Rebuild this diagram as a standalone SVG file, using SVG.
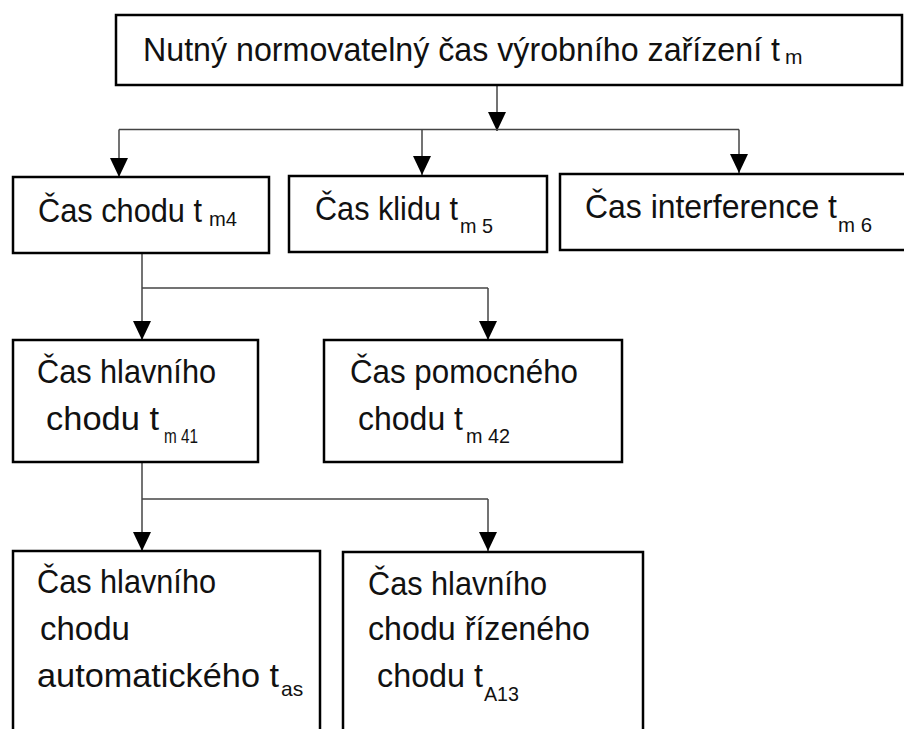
<svg xmlns="http://www.w3.org/2000/svg" width="904" height="729" viewBox="0 0 904 729">
<style>
.box{fill:#fff;stroke:#000;stroke-width:2.5}
.t{font-family:"Liberation Sans",Arial,sans-serif;font-size:33px;fill:#111}
.s{font-size:21px}
.c{fill:none;stroke:#444;stroke-width:1.5}
</style>
<defs>
<marker id="ah" markerUnits="userSpaceOnUse" markerWidth="19" markerHeight="18" refX="19" refY="9" orient="auto">
<path d="M0,0 L19,9 L0,18 z" fill="#000"/>
</marker>
</defs>
<rect width="904" height="729" fill="#fff"/>
<g id="connectors">
<line class="c" x1="497" y1="85" x2="497" y2="131" marker-end="url(#ah)"/>
<line class="c" x1="119" y1="129.5" x2="739" y2="129.5"/>
<line class="c" x1="119" y1="129.5" x2="119" y2="177" marker-end="url(#ah)"/>
<line class="c" x1="422" y1="129.5" x2="422" y2="175" marker-end="url(#ah)"/>
<line class="c" x1="739" y1="129.5" x2="739" y2="173" marker-end="url(#ah)"/>
<line class="c" x1="142" y1="253" x2="142" y2="340" marker-end="url(#ah)"/>
<line class="c" x1="142" y1="288" x2="488" y2="288"/>
<line class="c" x1="488" y1="288" x2="488" y2="340" marker-end="url(#ah)"/>
<line class="c" x1="142" y1="462" x2="142" y2="551" marker-end="url(#ah)"/>
<line class="c" x1="142" y1="499" x2="488" y2="499"/>
<line class="c" x1="488" y1="499" x2="488" y2="551" marker-end="url(#ah)"/>
</g>
<g id="n_top">
<rect class="box" x="116" y="15" width="786" height="70"/>
<text class="t" x="143" y="61"><tspan textLength="637" lengthAdjust="spacingAndGlyphs">Nutný normovatelný čas výrobního zařízení t</tspan><tspan class="s" x="785" y="64">m</tspan></text>
</g>
<g id="n_chod">
<rect class="box" x="13" y="177" width="256" height="76"/>
<text class="t" x="38" y="222"><tspan textLength="164" lengthAdjust="spacingAndGlyphs">Čas chodu t</tspan><tspan class="s" x="209" y="226" textLength="28" lengthAdjust="spacingAndGlyphs">m4</tspan></text>
</g>
<g id="n_klid">
<rect class="box" x="289" y="176" width="258" height="76"/>
<text class="t" x="315" y="220"><tspan textLength="143" lengthAdjust="spacingAndGlyphs">Čas klidu t</tspan><tspan class="s" x="460" y="233" textLength="33" lengthAdjust="spacingAndGlyphs">m 5</tspan></text>
</g>
<g id="n_interf">
<rect class="box" x="560" y="174" width="360" height="76"/>
<text class="t" x="585" y="218"><tspan textLength="252" lengthAdjust="spacingAndGlyphs">Čas interference t</tspan><tspan class="s" x="838" y="232" textLength="34" lengthAdjust="spacingAndGlyphs">m 6</tspan></text>
</g>
<g id="n_hlavni">
<rect class="box" x="13" y="340" width="245" height="122"/>
<text class="t" x="37" y="383" textLength="179" lengthAdjust="spacingAndGlyphs">Čas hlavního</text>
<text class="t" x="46" y="430"><tspan textLength="113" lengthAdjust="spacingAndGlyphs">chodu t</tspan><tspan class="s" x="164" y="443" textLength="34" lengthAdjust="spacingAndGlyphs">m 41</tspan></text>
</g>
<g id="n_pomoc">
<rect class="box" x="324" y="340" width="298" height="122"/>
<text class="t" x="350" y="383" textLength="228" lengthAdjust="spacingAndGlyphs">Čas pomocného</text>
<text class="t" x="358" y="430"><tspan textLength="105" lengthAdjust="spacingAndGlyphs">chodu t</tspan><tspan class="s" x="466" y="443" textLength="44" lengthAdjust="spacingAndGlyphs">m 42</tspan></text>
</g>
<g id="n_auto">
<rect class="box" x="13" y="551" width="307" height="200"/>
<text class="t" x="37" y="593" textLength="179" lengthAdjust="spacingAndGlyphs">Čas hlavního</text>
<text class="t" x="40" y="640">chodu</text>
<text class="t" x="37" y="687"><tspan textLength="242" lengthAdjust="spacingAndGlyphs">automatického t</tspan><tspan class="s" x="281" y="696">as</tspan></text>
</g>
<g id="n_rizeny">
<rect class="box" x="343" y="552" width="300" height="200"/>
<text class="t" x="368" y="595" textLength="179" lengthAdjust="spacingAndGlyphs">Čas hlavního</text>
<text class="t" x="368" y="640" textLength="222" lengthAdjust="spacingAndGlyphs">chodu řízeného</text>
<text class="t" x="377" y="687"><tspan textLength="106" lengthAdjust="spacingAndGlyphs">chodu t</tspan><tspan class="s" x="484" y="701" textLength="35" lengthAdjust="spacingAndGlyphs">A13</tspan></text>
</g>
</svg>
